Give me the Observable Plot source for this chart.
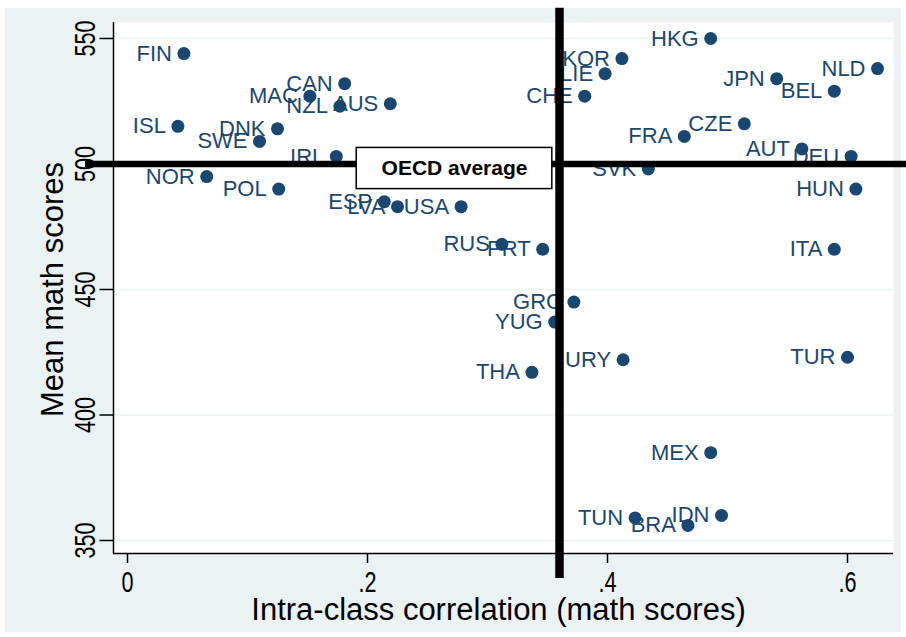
<!DOCTYPE html>
<html><head><meta charset="utf-8">
<script src="https://cdn.jsdelivr.net/npm/d3@7"></script>
<script src="https://cdn.jsdelivr.net/npm/@observablehq/plot@0.6"></script>
<style>
body{margin:0;background:#fff;font-family:"Liberation Sans",Arial,sans-serif;}
#bg{position:absolute;left:5px;top:8px;width:896px;height:624px;background:#eaf2f3;}
#chart{position:absolute;left:0;top:0;}
</style></head><body><div id="bg"></div><div id="chart"></div>
<script>
const countries = ["FIN","CAN","MAC","NZL","AUS","ISL","DNK","SWE","IRL","NOR","POL","ESP","LVA","USA","RUS","PRT","GRC","YUG","THA","URY","TUR","MEX","TUN","BRA","IDN","HKG","KOR","LIE","CHE","JPN","NLD","BEL","CZE","FRA","AUT","DEU","SVK","HUN","ITA"];
const icc = [0.047,0.181,0.152,0.177,0.219,0.042,0.125,0.110,0.174,0.066,0.126,0.214,0.225,0.278,0.312,0.346,0.372,0.356,0.337,0.413,0.600,0.486,0.423,0.467,0.495,0.486,0.412,0.398,0.381,0.541,0.625,0.589,0.514,0.464,0.562,0.603,0.434,0.607,0.589];
const math = [544,532,527,523,524,515,514,509,503,495,490,485,483,483,468,466,445,437,417,422,423,385,359,356,360,550,542,536,527,534,538,529,516,511,506,503,498,490,466];
const xTicks = [0, 0.2, 0.4, 0.6];
const xTickLabels = ["0", ".2", ".4", ".6"];
const yTicks = [350, 400, 450, 500, 550];
const xTitle = "Intra-class correlation (math scores)";
const yTitle = "Mean math scores";
const oecdLabel = "OECD average";
const oecdMath = 500;
const oecdIcc = 0.36;

// layout (not data)
const xDomain = [-0.01167, 0.63833];
const yDomain = [344.82, 556.37];
const hLine = [{y: oecdMath, x1: -0.035, x2: 0.66}];
const vLine = [{x: oecdIcc, y1: 334.9, y2: 562}];
const box = [{x1: 0.191, x2: 0.354, y1: 490.0, y2: 506.4, label: oecdLabel}];

const navy = "#1a476f";
const data = countries.map((c, i) => ({country: c, icc: icc[i], math: math[i]}));

const plot = Plot.plot({
  width: 906, height: 637,
  marginLeft: 113, marginRight: 13, marginTop: 22, marginBottom: 84,
  style: {background: "transparent", overflow: "visible", fontFamily: "'Liberation Sans', Arial, sans-serif", color: "black"},
  x: {domain: xDomain},
  y: {domain: yDomain},
  marks: [
    Plot.frame({fill: "white", stroke: "none"}),
    Plot.gridY(yTicks, {stroke: "#eaf2f3", strokeOpacity: 1, strokeWidth: 1.5}),
    Plot.ruleX([xDomain[0]], {stroke: "black", strokeWidth: 1.5}),
    Plot.ruleY([yDomain[0]], {stroke: "black", strokeWidth: 1.5}),
    Plot.axisX({ticks: xTicks, tickFormat: d => xTickLabels[xTicks.indexOf(d)], tickSize: 10, tickPadding: 7, fontSize: 30, strokeWidth: 1.5, label: null}),
    Plot.axisY({ticks: yTicks, tickSize: 13.5, tickPadding: 5, tickRotate: -90, fontSize: 30, strokeWidth: 1.5, label: null}),
    Plot.text([xTitle], {text: d => d, frameAnchor: "bottom", textAnchor: "middle", dy: 66, dx: -5, fontSize: 31, fill: "black"}),
    Plot.text([yTitle], {text: d => d, frameAnchor: "left", textAnchor: "middle", rotate: -90, dx: -60.5, dy: 1.5, fontSize: 31, fill: "black"}),
    Plot.dot(data, {x: "icc", y: "math", r: 6.5, fill: navy, stroke: "none"}),
    Plot.text(data, {x: "icc", y: "math", text: "country", textAnchor: "end", dx: -12, fontSize: 22, fill: navy}),
    Plot.ruleY(hLine, {y: "y", x1: "x1", x2: "x2", stroke: "black", strokeWidth: 6.5}),
    Plot.rect(box, {x1: "x1", x2: "x2", y1: "y1", y2: "y2", fill: "white", stroke: "black", strokeWidth: 1.5}),
    Plot.text(box, {x: d => (d.x1 + d.x2) / 2, y: d => (d.y1 + d.y2) / 2, text: "label", fontSize: 21, fontWeight: "bold", fill: "black"}),
    Plot.ruleX(vLine, {x: "x", y1: "y1", y2: "y2", stroke: "black", strokeWidth: 8.5})
  ]
});
document.getElementById("chart").append(plot);
plot.querySelectorAll('g[aria-label="x-axis tick label"] text, g[aria-label="y-axis tick label"] text').forEach(t => {
  const L = t.getComputedTextLength();
  t.setAttribute("textLength", L * 0.72);
  t.setAttribute("lengthAdjust", "spacingAndGlyphs");
});
</script></body></html>
